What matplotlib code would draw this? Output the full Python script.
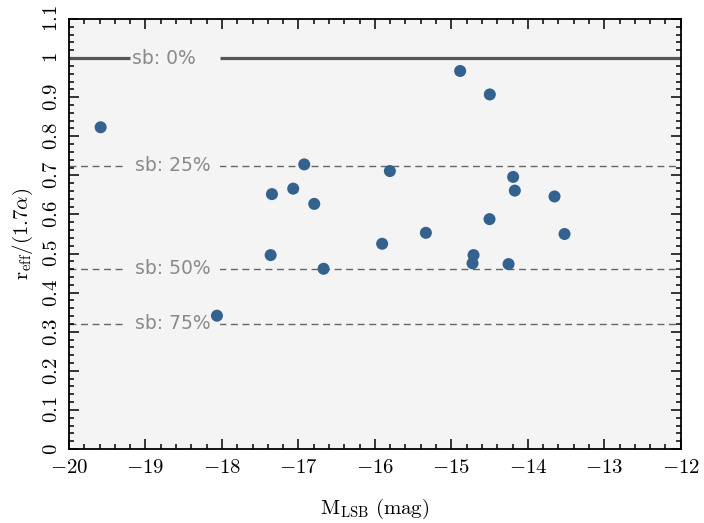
import matplotlib
matplotlib.use("Agg")
import matplotlib.pyplot as plt
from matplotlib.ticker import MultipleLocator, FuncFormatter

plt.rcParams['mathtext.fontset'] = 'cm'
plt.rcParams['font.family'] = ['DejaVu Sans']

# data
m_lsb = [-19.586, -18.065, -17.346, -17.068, -16.924, -16.793, -17.363, -16.671,
         -15.905, -15.804, -15.333, -14.885, -14.497, -14.501, -14.710, -14.723,
         -14.252, -14.192, -14.170, -13.651, -13.520]
r_ratio = [0.823, 0.341, 0.652, 0.666, 0.728, 0.627, 0.496, 0.461,
           0.525, 0.711, 0.553, 0.967, 0.907, 0.588, 0.496, 0.475,
           0.473, 0.696, 0.661, 0.646, 0.550]

sb_levels = [0.724, 0.4605, 0.320]
sb_labels = ["sb: 25%", "sb: 50%", "sb: 75%"]
sb0_level = 1.0
sb0_label = "sb: 0%"

xlim = (-20, -12)
ylim = (0, 1.1)

fig = plt.figure(figsize=(7.04, 5.23), dpi=100)
ax = fig.add_axes([0.098, 0.1415, 0.869, 0.8222])
ax.set_facecolor('#f4f4f4')

# solid reference line with a gap for its label
gap_start, gap_end = -19.2, -18.02
ax.plot([xlim[0], gap_start], [sb0_level, sb0_level], color='#555555', lw=2.3,
        solid_capstyle='butt', zorder=2)
ax.plot([gap_end, xlim[1]], [sb0_level, sb0_level], color='#555555', lw=2.3,
        solid_capstyle='butt', zorder=2)
ax.text(-19.18, sb0_level, sb0_label, color='#8a8a8a', fontsize=13.5,
        va='center', ha='left', zorder=3)

for lev, lab in zip(sb_levels, sb_labels):
    ax.axhline(lev, color='#666666', lw=1.0, dashes=(5, 3.3), zorder=1)
    ax.text(-19.14, lev, lab, color='#8a8a8a', fontsize=13.5, va='center', ha='left',
            zorder=3,
            bbox=dict(facecolor='#f4f4f4', edgecolor='none', pad=7))

ax.scatter(m_lsb, r_ratio, s=75, color='#34628e', edgecolors='none', zorder=4)

ax.set_xlim(*xlim)
ax.set_ylim(*ylim)

ax.xaxis.set_major_locator(MultipleLocator(1))
ax.xaxis.set_minor_locator(MultipleLocator(0.2))
ax.yaxis.set_major_locator(MultipleLocator(0.1))
ax.yaxis.set_minor_locator(MultipleLocator(0.02))

def xfmt(v, pos):
    return r'$%d$' % round(v)

def yfmt(v, pos):
    return r'$%s$' % ('%g' % round(v, 2))

ax.xaxis.set_major_formatter(FuncFormatter(xfmt))
ax.yaxis.set_major_formatter(FuncFormatter(yfmt))

ax.tick_params(which='both', direction='in', top=True, right=True, width=1.1,
               color='black')
ax.tick_params(which='major', length=7, labelsize=15, pad=6)
ax.tick_params(which='minor', length=3.5)
for lab in ax.get_yticklabels():
    lab.set_rotation(90)
    lab.set_va('center')
for sp in ax.spines.values():
    sp.set_linewidth(1.3)

ax.set_xlabel(r'$\mathrm{M_{LSB}\ (mag)}$', fontsize=15, labelpad=14)
ax.set_ylabel(r'$\mathrm{r_{eff}/(1.7}\alpha\mathrm{)}$', fontsize=15, labelpad=4)

fig.savefig('out.png', dpi=100, facecolor='white')
